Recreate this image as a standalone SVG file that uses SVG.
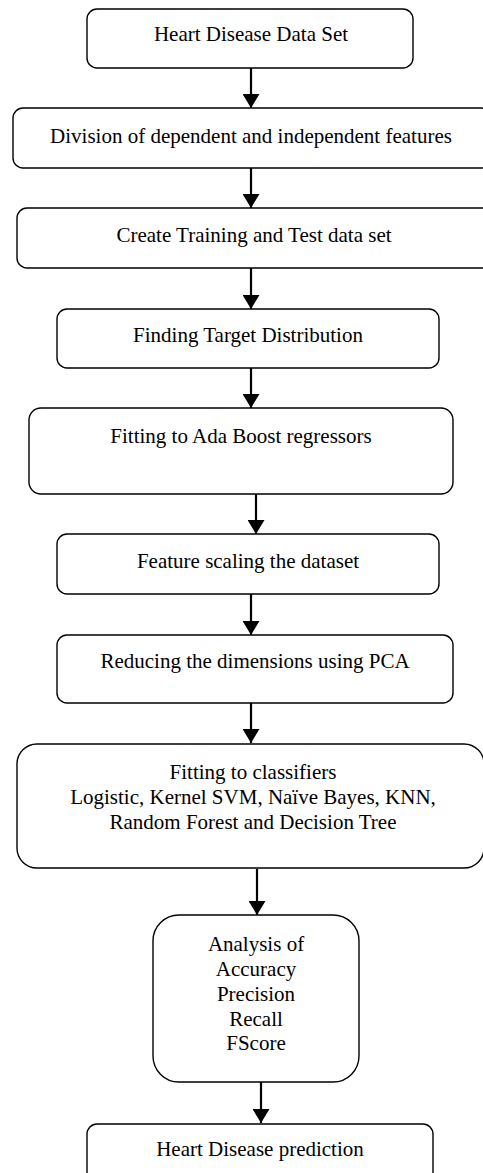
<svg xmlns="http://www.w3.org/2000/svg" width="483" height="1173" viewBox="0 0 483 1173">
<style>
.box{fill:#fff;stroke:#000;stroke-width:1.4}
.t{font-family:"Liberation Serif","Times New Roman",serif;font-size:21px;fill:#000;text-anchor:middle}
.c{stroke:#000;stroke-width:2.2;fill:none}
</style>
<defs>
<marker id="ah" markerUnits="userSpaceOnUse" markerWidth="14" markerHeight="17" viewBox="0 0 14 17" refX="14" refY="8.5" orient="auto">
<path d="M0,0 L14,8.5 L0,17 Z" fill="#000"/>
</marker>
</defs>
<rect width="483" height="1173" fill="#fff"/>
<g id="connectors">
<line class="c" x1="251" y1="68" x2="251" y2="108" marker-end="url(#ah)"/>
<line class="c" x1="251" y1="168" x2="251" y2="208" marker-end="url(#ah)"/>
<line class="c" x1="251" y1="268" x2="251" y2="309" marker-end="url(#ah)"/>
<line class="c" x1="251" y1="368" x2="251" y2="408" marker-end="url(#ah)"/>
<line class="c" x1="256" y1="494" x2="256" y2="534" marker-end="url(#ah)"/>
<line class="c" x1="251" y1="594" x2="251" y2="635" marker-end="url(#ah)"/>
<line class="c" x1="251" y1="703" x2="251" y2="743" marker-end="url(#ah)"/>
<line class="c" x1="257" y1="869" x2="257" y2="915" marker-end="url(#ah)"/>
<line class="c" x1="261" y1="1082" x2="261" y2="1123" marker-end="url(#ah)"/>
</g>
<g id="n1"><rect class="box" x="87" y="9" width="326" height="59" rx="10"/><text class="t" x="251" y="41">Heart Disease Data Set</text></g>
<g id="n2"><rect class="box" x="13" y="108" width="478" height="60" rx="10"/><text class="t" x="251" y="143">Division of dependent and independent features</text></g>
<g id="n3"><rect class="box" x="17" y="208" width="475" height="60" rx="10"/><text class="t" x="254" y="242">Create Training and Test data set</text></g>
<g id="n4"><rect class="box" x="57" y="309" width="382" height="59" rx="10"/><text class="t" x="248" y="342">Finding Target Distribution</text></g>
<g id="n5"><rect class="box" x="29" y="408" width="424" height="86" rx="12"/><text class="t" x="241" y="443">Fitting to Ada Boost regressors</text></g>
<g id="n6"><rect class="box" x="57" y="534" width="382" height="60" rx="10"/><text class="t" x="248" y="568">Feature scaling the dataset</text></g>
<g id="n7"><rect class="box" x="57" y="635" width="396" height="68" rx="10"/><text class="t" x="255" y="668">Reducing the dimensions using PCA</text></g>
<g id="n8"><rect class="box" x="17" y="744" width="467" height="124" rx="20"/><text class="t" x="253" y="779">Fitting to classifiers</text><text class="t" x="253" y="804">Logistic, Kernel SVM, Naïve Bayes, KNN,</text><text class="t" x="253" y="829">Random Forest and Decision Tree</text></g>
<g id="n9"><rect class="box" x="153" y="915" width="206" height="167" rx="26"/><text class="t" x="256" y="951">Analysis of</text><text class="t" x="256" y="976">Accuracy</text><text class="t" x="256" y="1001">Precision</text><text class="t" x="256" y="1026">Recall</text><text class="t" x="256" y="1050">FScore</text></g>
<g id="n10"><rect class="box" x="87" y="1124" width="346" height="62" rx="10"/><text class="t" x="260" y="1156">Heart Disease prediction</text></g>
</svg>
